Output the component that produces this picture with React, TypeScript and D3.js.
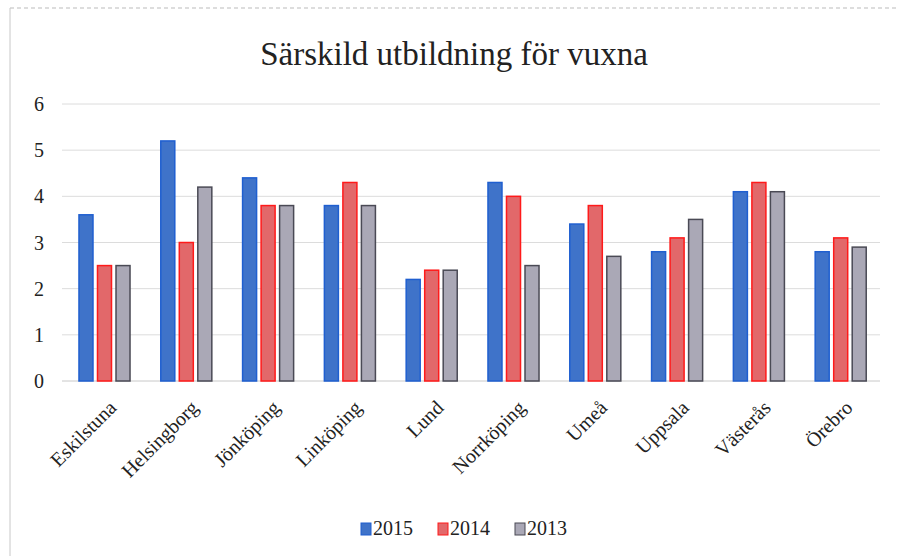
import React from "react";
import { scaleBand, scaleLinear } from "d3";

const cities = [
  "Eskilstuna",
  "Helsingborg",
  "Jönköping",
  "Linköping",
  "Lund",
  "Norrköping",
  "Umeå",
  "Uppsala",
  "Västerås",
  "Örebro",
];
const years = ["2015", "2014", "2013"];
const v2015 = [3.6, 5.2, 4.4, 3.8, 2.2, 4.3, 3.4, 2.8, 4.1, 2.8];
const v2014 = [2.5, 3.0, 3.8, 4.3, 2.4, 4.0, 3.8, 3.1, 4.3, 3.1];
const v2013 = [2.5, 4.2, 3.8, 3.8, 2.4, 2.5, 2.7, 3.5, 4.1, 2.9];
const yTicks = [0, 1, 2, 3, 4, 5, 6];

const fills = ["#3f73c9", "#e2686a", "#aaa8b6"];
const strokes = ["#1f5fd0", "#ff1a1a", "#4a4a55"];
const font = "Liberation Serif";

const W = 898;
const H = 556;

export default function App() {
  const series = [v2015, v2014, v2013];
  // bandes par ville, puis une sous-bande par année
  const x = scaleBand<string>().domain(cities).range([63.6, 881.6]).paddingInner(0.376).paddingOuter(0.188);
  const inner = scaleBand<string>().domain(years).range([0, x.bandwidth()]).paddingInner(0.243);
  const y = scaleLinear().domain([0, 6]).range([381, 104]);

  return (
    <svg width={W} height={H} style={{ position: "absolute", left: 0, top: 0, background: "#fff" }}>
      <line x1={10} y1={8} x2={W} y2={8} stroke="#bbb" strokeDasharray="4 3" />
      <line x1={10} y1={8} x2={10} y2={H} stroke="#c8c8c8" />

      <text x={454} y={65} textAnchor="middle" fontFamily={font} fontSize={33} fill="#222">
        Särskild utbildning för vuxna
      </text>

      {yTicks.map((t) => (
        <g key={t}>
          <line x1={62} x2={880} y1={y(t)} y2={y(t)} stroke={t === 0 ? "#c8c8c8" : "#dcdcdc"} />
          <text x={44} y={y(t)} dy="0.35em" textAnchor="end" fontFamily={font} fontSize={20} fill="#222">
            {t}
          </text>
        </g>
      ))}

      {cities.map((c, i) => (
        <g key={c} transform={`translate(${x(c)},0)`}>
          {series.map((s, k) => (
            <rect
              key={years[k]}
              x={inner(years[k])}
              y={y(s[i])}
              width={inner.bandwidth()}
              height={y(0) - y(s[i])}
              fill={fills[k]}
              stroke={strokes[k]}
              strokeWidth={1.5}
            />
          ))}
        </g>
      ))}

      {cities.map((c) => {
        const cx = (x(c) || 0) + x.bandwidth() / 2 + 13;
        return (
          <text
            key={c}
            transform={`translate(${cx},409) rotate(-45)`}
            textAnchor="end"
            fontFamily={font}
            fontSize={20}
            fill="#222"
          >
            {c}
          </text>
        );
      })}

      {years.map((yr, k) => {
        const lx = 361 + k * 77;
        return (
          <g key={yr}>
            <rect x={lx} y={523} width={10} height={12} fill={fills[k]} stroke={strokes[k]} />
            <text x={lx + 12} y={535} fontFamily={font} fontSize={20} fill="#222">
              {yr}
            </text>
          </g>
        );
      })}
    </svg>
  );
}
